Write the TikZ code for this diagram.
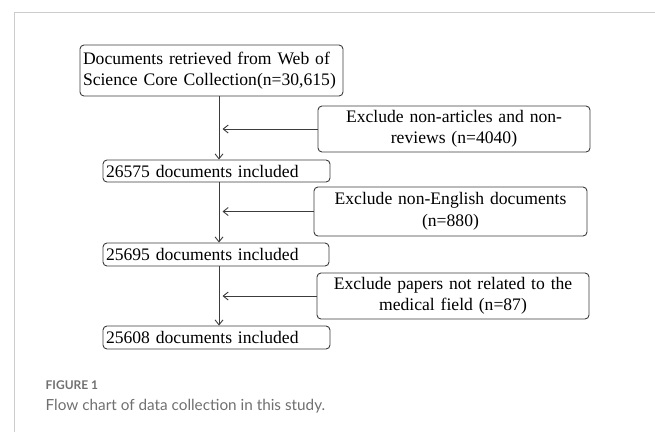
\documentclass[tikz,border=0pt]{standalone}
\usepackage{fontspec}
\setmainfont{Liberation Serif}
\newfontfamily\capfont{Lato}
\usetikzlibrary{arrows.meta}
\definecolor{boxline}{HTML}{3C3C3C}
\definecolor{framegray}{HTML}{CCCCCC}
\definecolor{captiongray}{HTML}{707070}
\tikzset{
  box/.style={draw=boxline, line width=0.9pt, rounded corners=4pt,
    font=\fontsize{17.6}{21.5}\selectfont, inner sep=3pt},
  stagebox/.style={box, align=left},
  excludebox/.style={box, align=center},
  arr/.style={draw=boxline, line width=0.9pt, -{Straight Barb[length=5pt,width=8pt]}},
}
\begin{document}
\begin{tikzpicture}[x=1pt, y=-1pt]
  \useasboundingbox (0,0) rectangle (655,432);
  % page frame
  \draw[framegray, line width=1pt] (14,432) -- (14,12.5) -- (655,12.5);

  % main column of stages
  \node[stagebox, minimum width=263, minimum height=51, text width=257] (s1) at (211.5,70.5)
    {Documents retrieved from Web of\\Science Core Collection(n=30,615)};
  \node[stagebox, minimum width=227, minimum height=22, text width=221] (s2) at (216.5,171)
    {26575 documents included};
  \node[stagebox, minimum width=226, minimum height=23, text width=220] (s3) at (216,254.5)
    {25695 documents included};
  \node[stagebox, minimum width=227, minimum height=23, text width=221] (s4) at (216.5,337.5)
    {25608 documents included};

  % exclusion boxes
  \node[excludebox, minimum width=272, minimum height=46, text width=266] (e1) at (454,129)
    {Exclude non-articles and non-\\reviews (n=4040)};
  \node[excludebox, minimum width=273, minimum height=49, text width=267] (e2) at (450.5,211.5)
    {Exclude non-English documents\\(n=880)};
  \node[excludebox, minimum width=272, minimum height=46, text width=266] (e3) at (453,296)
    {Exclude papers not related to the\\medical field (n=87)};

  % spine and arrow tips
  \coordinate (spine) at (219,0);
  \coordinate (tip) at (222.5,0);

  \draw[arr] (s1.south -| spine) -- (s2.north -| spine);
  \draw[arr] (s2.south -| spine) -- (s3.north -| spine);
  \draw[arr] (s3.south -| spine) -- (s4.north -| spine);

  \draw[arr] (e1.west) -- (e1.west -| tip);
  \draw[arr] (e2.west) -- (e2.west -| tip);
  \draw[arr] (e3.west) -- (e3.west -| tip);

  % caption
  \node[anchor=base west, inner sep=0pt, text=captiongray,
    font=\capfont\bfseries\fontsize{12}{14}\selectfont] (figlabel) at (45.5,389) {FIGURE 1};
  \node[anchor=base west, inner sep=0pt, text=captiongray,
    font=\capfont\fontsize{15.3}{18}\selectfont] (figtext) at (45.5,410)
    {Flow chart of data collection in this study.};
\end{tikzpicture}
\end{document}
